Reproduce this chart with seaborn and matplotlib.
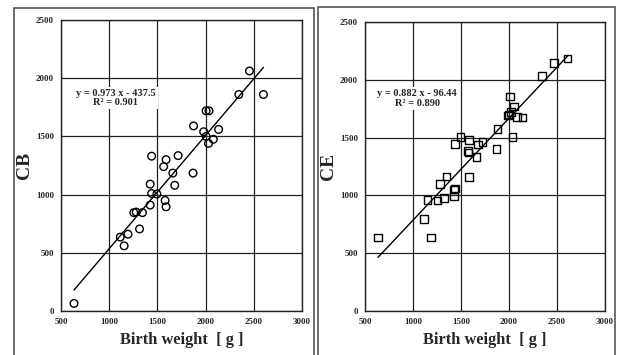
import matplotlib as mpl
mpl.use('Agg')
import matplotlib.pyplot as plt
from matplotlib.patches import Rectangle
import numpy as np
import seaborn as sns

sns.set_style("white")
plt.rcParams['font.family'] = ['Liberation Serif', 'DejaVu Serif']
plt.rcParams['font.weight'] = 'bold'

########## DATA ##########
cb_weight = [635, 1115, 1155, 1195, 1255, 1280, 1315, 1345, 1425, 1425, 1440,
             1495, 1580, 1590, 1680, 1660, 1565, 1440, 1590, 1715, 1870, 1875,
             1980, 2005, 2030, 2080, 2135, 2005, 2035, 2345, 2455, 2600]
cb_value = [65, 635, 560, 660, 845, 850, 705, 845, 910, 1090, 1010,
            1005, 950, 895, 1080, 1185, 1240, 1330, 1300, 1335, 1185, 1590,
            1540, 1500, 1440, 1475, 1560, 1720, 1720, 1860, 2062, 1860]

ce_weight = [635, 1115, 1190, 1150, 1255, 1280, 1320, 1425, 1430, 1440, 1350,
             1585, 1660, 1570, 1580, 1440, 1495, 1585, 1680, 1725, 1870, 1880,
             2035, 2000, 2020, 1990, 2085, 2140, 2050, 2010, 2345, 2470, 2610]
ce_value = [635, 795, 635, 960, 955, 1100, 975, 990, 1050, 1060, 1165,
            1160, 1330, 1385, 1370, 1445, 1505, 1480, 1440, 1460, 1400, 1575,
            1505, 1700, 1720, 1690, 1680, 1675, 1770, 1855, 2035, 2145, 2185]

cb_fit = (0.973, -437.5, 0.901)
ce_fit = (0.882, -96.44, 0.890)

x_ticks = [500, 1000, 1500, 2000, 2500, 3000]
y_ticks = [0, 500, 1000, 1500, 2000, 2500]

########## FIGURE ##########
W, H = 619, 355
fig = plt.figure(figsize=(W / 100, H / 100), dpi=100)


def px_box(l, t, r, b):
    return [l / W, 1 - b / H, (r - l) / W, (b - t) / H]


# panel frames
for l, t, r in [(14, 8, 314), (318, 7, 615)]:
    fig.patches.append(Rectangle((l / W, -0.05), (r - l) / W, 1 - t / H + 0.05,
                                 transform=fig.transFigure, fill=False,
                                 edgecolor='#555555', lw=1.2))


def panel(box, xs, ys, fit, marker, ylabel, eq_xy, eq_text):
    ax = fig.add_axes(px_box(*box))
    sns.scatterplot(x=xs, y=ys, ax=ax, marker=marker, s=30,
                    facecolor='none', edgecolor='black', linewidth=1.0, zorder=4)
    xx = np.array([min(xs), max(xs)])
    ax.plot(xx, fit[0] * xx + fit[1], color='black', lw=1.0, zorder=3)
    ax.set_xlim(500, 3000)
    ax.set_ylim(0, 2500)
    ax.set_xticks(x_ticks)
    ax.set_yticks(y_ticks)
    ax.tick_params(length=0, labelsize=6.5, pad=5)
    for lab in ax.get_xticklabels() + ax.get_yticklabels():
        lab.set_fontweight('bold')
    ax.grid(True, color='#222222', lw=0.9)
    ax.set_axisbelow(True)
    for sp in ax.spines.values():
        sp.set_color('#222222')
        sp.set_linewidth(1.0)
    xl = ax.set_xlabel('Birth weight  [ g ]', fontsize=11.8, fontweight='bold')
    yl = ax.set_ylabel(ylabel, fontsize=14, fontweight='bold')
    xl.set_va('center')
    yl.set_va('center')
    ax.yaxis.set_label_coords(-36 / (box[2] - box[0]), 0.5)
    ax.xaxis.set_label_coords(0.5, -29 / (box[3] - box[1]))
    ax.text(eq_xy[0], eq_xy[1], eq_text, fontsize=7.5, fontweight='bold',
            ha='center', va='center', multialignment='center', zorder=5,
            linespacing=1.1,
            bbox=dict(facecolor='white', edgecolor='none', pad=1.5))
    return ax


panel((61, 20, 302, 311), cb_weight, cb_value, cb_fit, 'o', 'CB',
      (1070, 1830), 'y = %.3f x - %.1f\nR² = %.3f' % (cb_fit[0], -cb_fit[1], cb_fit[2]))
panel((365, 22, 605, 311), ce_weight, ce_value, ce_fit, 's', 'CE',
      (1045, 1840), 'y = %.3f x - %.2f\nR² = %.3f' % (ce_fit[0], -ce_fit[1], ce_fit[2]))

fig.savefig('out.png', dpi=100)
